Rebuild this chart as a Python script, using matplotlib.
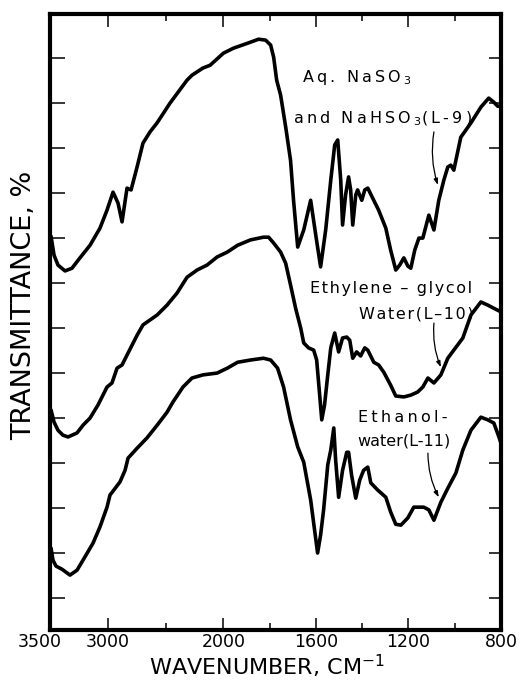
import numpy as np
import matplotlib
matplotlib.use("Agg")
import matplotlib.pyplot as plt
from matplotlib.transforms import ScaledTranslation

# IR spectra of three lignins, wavenumber (cm-1) vs transmittance (arbitrary, stacked)
# L-9: aqueous NaSO3 and NaHSO3
wn_l9 = [3491, 3465, 3431, 3370, 3310, 3241, 3154, 3068, 3007, 2955, 2912, 2877,
         2834, 2799, 2747, 2696, 2635, 2574, 2462, 2315, 2272, 2177, 2116, 2000,
         1957, 1896, 1848, 1818, 1796, 1783, 1770, 1753, 1731, 1710, 1697, 1679,
         1653, 1623, 1601, 1580, 1558, 1536, 1519, 1506, 1493, 1485, 1472, 1459,
         1450, 1441, 1428, 1420, 1402, 1389, 1376, 1355, 1329, 1298, 1277, 1255,
         1238, 1220, 1203, 1190, 1173, 1155, 1138, 1112, 1090, 1069, 1047, 1030,
         1017, 1004, 974, 930, 887, 853, 831, 814, 800]
tr_l9 = [90.4, 86.2, 84.0, 82.7, 83.3, 85.6, 88.4, 92.2, 96.2, 100.2, 97.8, 93.6,
         101.1, 100.7, 105.8, 111.1, 113.6, 115.6, 120.0, 125.1, 126.2, 127.8, 128.4, 131.1,
         132.2, 133.3, 134.2, 134.0, 132.9, 130.2, 125.1, 121.8, 114.7, 107.3, 98.4, 88.0,
         91.8, 98.4, 90.7, 83.6, 91.8, 102.9, 110.7, 111.8, 102.9, 92.9, 99.6, 103.6,
         100.7, 92.9, 99.6, 100.7, 98.4, 100.7, 101.1, 98.9, 96.2, 92.2, 87.3, 82.9,
         84.0, 85.6, 83.8, 83.3, 87.3, 90.0, 90.0, 95.1, 91.8, 98.4, 102.9, 105.8,
         106.2, 105.1, 112.4, 115.6, 119.1, 121.1, 120.2, 119.3, 119.3]

# L-10: ethylene glycol / water
wn_l10 = [3491, 3465, 3431, 3388, 3344, 3266, 3215, 3154, 3085, 3007, 2964, 2920,
          2877, 2834, 2747, 2696, 2574, 2488, 2401, 2315, 2228, 2142, 2055, 1983,
          1939, 1883, 1827, 1805, 1783, 1753, 1731, 1710, 1688, 1666, 1653, 1632,
          1610, 1597, 1584, 1575, 1563, 1549, 1536, 1519, 1502, 1485, 1467, 1454,
          1441, 1424, 1407, 1389, 1376, 1350, 1329, 1307, 1277, 1255, 1220, 1190,
          1160, 1138, 1116, 1090, 1060, 1030, 1004, 965, 930, 887, 857, 831, 800]
tr_l10 = [51.8, 49.1, 47.3, 46.2, 45.8, 46.7, 48.4, 50.0, 52.9, 56.9, 57.8, 61.1,
          61.8, 64.0, 68.4, 70.7, 72.9, 75.1, 77.8, 81.3, 82.9, 84.0, 85.8, 86.9,
          88.4, 89.6, 90.2, 90.2, 88.9, 86.9, 84.4, 79.6, 74.4, 70.0, 66.7, 65.6,
          65.1, 62.9, 55.1, 49.6, 52.9, 59.6, 65.6, 68.9, 64.7, 67.8, 68.0, 67.3,
          63.3, 64.7, 63.8, 65.6, 65.1, 62.4, 61.8, 60.2, 57.3, 54.9, 54.7, 55.1,
          55.8, 56.9, 58.9, 57.8, 59.6, 63.3, 65.1, 67.8, 72.9, 75.8, 75.1, 74.4, 73.6]

# L-11: ethanol / water
wn_l11 = [3491, 3474, 3448, 3396, 3327, 3266, 3215, 3128, 3068, 3007, 2981, 2895,
          2851, 2825, 2747, 2661, 2574, 2488, 2436, 2350, 2272, 2177, 2055, 1983,
          1939, 1883, 1827, 1796, 1766, 1740, 1710, 1679, 1653, 1623, 1606, 1593,
          1580, 1567, 1549, 1536, 1523, 1515, 1502, 1485, 1467, 1459, 1446, 1428,
          1411, 1394, 1376, 1363, 1333, 1298, 1277, 1255, 1233, 1203, 1177, 1134,
          1112, 1090, 1060, 1030, 995, 965, 930, 887, 857, 831, 809, 800]
tr_l11 = [21.1, 18.4, 17.1, 16.4, 15.1, 16.2, 18.4, 22.2, 25.8, 30.2, 32.9, 35.8,
          38.4, 41.1, 43.3, 45.6, 48.4, 51.3, 53.6, 56.9, 58.9, 59.6, 60.0, 61.1,
          62.4, 62.9, 63.3, 62.9, 61.1, 56.9, 49.6, 43.6, 40.2, 31.8, 25.1, 20.0,
          24.0, 29.6, 39.6, 42.9, 47.8, 40.7, 32.4, 38.4, 42.4, 42.4, 37.3, 32.2,
          36.2, 38.4, 39.1, 35.6, 34.0, 32.4, 29.1, 26.4, 26.2, 27.8, 30.2, 30.2,
          29.6, 27.3, 31.3, 34.4, 37.8, 42.9, 47.3, 50.2, 49.6, 48.9, 45.8, 44.4]

major_ticks = [3500, 3000, 2000, 1600, 1200, 800]
minor_ticks = [2500, 1800, 1400, 1000]
y_ticks = list(range(10, 140, 10))

THIN = '\u2009'
HAIR = '\u200a'


# chart paper scale: above 2000 cm-1 the axis is compressed by half
def fwd(w):
    w = np.asarray(w, dtype=float)
    return np.where(w <= 2000, w, 2000 + (w - 2000) / 2)


def inv(p):
    p = np.asarray(p, dtype=float)
    return np.where(p <= 2000, p, 2000 + (p - 2000) * 2)


def spaced(s, gap):
    # letter-spaced lettering
    return gap.join(s)


plt.rcParams['font.family'] = ['DejaVu Sans']
plt.rcParams['mathtext.fontset'] = 'dejavusans'

fig = plt.figure(figsize=(5.24, 6.9), dpi=100)
ax = fig.add_axes([50 / 524, 60 / 690, 451 / 524, 616 / 690])

for wn, tr in [(wn_l9, tr_l9), (wn_l10, tr_l10), (wn_l11, tr_l11)]:
    ax.plot(wn, tr, color='black', lw=2.6, solid_joinstyle='round',
            solid_capstyle='round')

ax.set_xscale('function', functions=(fwd, inv))
ax.set_xlim(3500, 800)
ax.set_ylim(2.9, 139.8)

ax.set_xticks(major_ticks)
ax.set_xticklabels([str(t) for t in major_ticks], fontsize=12.5)
ax.set_xticks(minor_ticks, minor=True)
ax.set_yticks(y_ticks)
ax.set_yticklabels([])

ax.tick_params(axis='x', which='major', direction='in', top=True, bottom=True,
               length=9, width=1.1, pad=2)
ax.tick_params(axis='x', which='minor', direction='in', top=True, bottom=True,
               length=5, width=1.1)
ax.tick_params(axis='y', which='major', direction='in', left=True, right=True,
               length=10.5, width=1.1)
for t in ax.yaxis.get_major_ticks():
    t.tick2line.set_markersize(8.5)

for s in ax.spines.values():
    s.set_linewidth(3)

# crowded left-most label sits a bit to the left
for lbl in ax.get_xticklabels():
    if lbl.get_text() == '3500':
        lbl.set_transform(lbl.get_transform() +
                          ScaledTranslation(-0.10, 0, fig.dpi_scale_trans))

fig.text(267 / 524, 1 - 675 / 690, r'WAVENUMBER, CM$^{-1}$', fontsize=16,
         ha='center', va='baseline')
fig.text(24 / 524, 1 - 305 / 690, 'TRANSMITTANCE, %',
         fontsize=19.5, rotation=90, ha='center', va='center')

# curve labels with arrows
txt = dict(fontsize=11.5, transform=ax.transAxes, va='baseline', ha='left')
ax.text(0.559, 0.890, spaced('Aq. NaSO', THIN) + THIN + r'$_3$', **txt)
ax.text(0.539, 0.823, spaced('and NaHSO', THIN) + THIN + r'$_3$'
        + spaced('(L-9)', THIN), **txt)
ax.text(0.576, 0.547, spaced('Ethylene \u2013 glycol', HAIR), **txt)
ax.text(0.685, 0.506, spaced('Water(L\u201310)', HAIR), **txt)
ax.text(0.683, 0.338, spaced('Ethanol-', THIN), **txt)
ax.text(0.681, 0.300, 'water(L-11)', **txt)

arrow = dict(arrowstyle='-|>,head_length=0.35,head_width=0.12', color='black',
             lw=0.9, connectionstyle='arc3,rad=0.12', shrinkA=0, shrinkB=0)
ax.annotate('', xy=(1073, 101.8), xytext=(1090, 113.6), arrowprops=arrow)
ax.annotate('', xy=(1060, 61.3), xytext=(1090, 71.1), arrowprops=arrow)
ax.annotate('', xy=(1069, 32.4), xytext=(1116, 42.2), arrowprops=arrow)

fig.savefig('out.png', dpi=100)
